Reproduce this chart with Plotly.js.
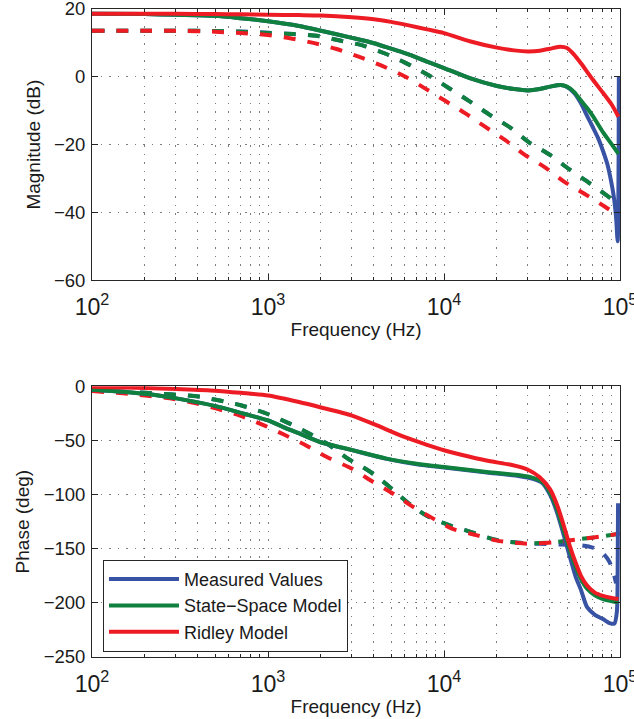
<!DOCTYPE html>
<html>
<head>
<meta charset="utf-8">
<script src="https://cdn.plot.ly/plotly-3.0.1.min.js"></script>
<style>html,body{margin:0;padding:0;background:#fff;overflow:hidden;}#chart{width:634px;height:719px;}</style>
</head>
<body>
<div id="chart"></div>
<script>
// ---------- Legend names ----------
const seriesNames = ["Measured Values", "State\u2212Space Model", "Ridley Model"];

// ---------- Magnitude (dB), solid curves ----------
const measMag1F = [100,200,300,500,700,1000,1500,2000,3000,4000,5000,6400,8000,10000,14000,20000,25000,30000,35000,40000,46000,50000,55000,60000,65000,70000,75000,80000,85000,88000,92000,95000,97000,98500];
const measMag1  = [18.6,18.5,18.3,18.0,17.3,16.4,15.0,13.6,11.5,9.9,8.3,6.5,4.5,2.6,-0.4,-2.7,-3.6,-4.0,-3.6,-2.9,-2.4,-3.0,-4.8,-7.8,-11.5,-14.8,-18.0,-21.8,-26.0,-29.5,-35.0,-41.5,-48.5,0];
const ssMag1F   = [100,200,300,500,700,1000,1500,2000,3000,4000,5000,6400,8000,10000,14000,20000,25000,30000,35000,40000,46000,50000,55000,60000,65000,70000,80000,90000,98000];
const ssMag1    = [18.6,18.5,18.3,18.0,17.3,16.4,15.0,13.6,11.5,9.9,8.3,6.5,4.5,2.6,-0.4,-2.7,-3.6,-4.0,-3.6,-2.9,-2.4,-2.9,-4.5,-7.0,-9.2,-11.5,-16.3,-20.0,-22.7];
const ridleyMag1F = [100,200,300,500,700,1000,1500,2000,3000,4000,5000,6400,8000,10000,14000,20000,25000,30000,35000,40000,46000,50000,55000,60000,70000,80000,90000,98000];
const ridleyMag1  = [18.6,18.6,18.6,18.5,18.45,18.3,18.2,18.1,17.6,17.0,16.2,15.1,14.0,12.9,10.5,8.6,7.8,7.5,7.7,8.3,8.9,8.5,6.5,4.0,-0.8,-4.7,-8.3,-11.8];

// ---------- Magnitude (dB), dashed curves ----------
const measMag2F = [100,200,300,500,700,1014,1393,1892,2564,3480,4664,6000,8220,10800,14060,18200,23700,30400,40000,51300,66100,84700,93000];
const measMag2  = [13.6,13.6,13.6,13.5,13.35,13.0,12.6,12.1,10.7,9.2,6.8,4.2,0.4,-3.5,-7.3,-11.2,-14.9,-19.3,-23.0,-27.2,-31.1,-35.1,-36.5];
const ssMag2F   = [100,200,300,500,700,1014,1393,1892,2564,3480,4664,6000,8220,10800,14060,18200,23700,30400,40000,51300,66100,84700,93000];
const ssMag2    = [13.6,13.6,13.6,13.5,13.3,12.9,12.6,12.1,10.7,9.2,6.8,4.2,0.4,-3.5,-7.3,-11.2,-14.9,-19.3,-23.0,-27.2,-31.1,-35.1,-36.6];
const ridleyMag2F = [100,200,300,500,700,960,1333,1808,2455,3335,4424,6000,7800,10100,13160,17100,22200,28800,37500,48100,62400,82200,92000];
const ridleyMag2  = [13.6,13.6,13.6,13.3,12.9,12.4,11.4,10.0,8.2,5.8,3.3,0.1,-3.4,-7.0,-10.7,-14.7,-18.6,-23.0,-26.7,-30.9,-34.4,-38.3,-40.0];

// ---------- Phase (deg), solid curves ----------
const measPh1F = [100,150,213,330,511,790,1000,1222,1516,1973,3060,4720,7000,10000,17500,27000,32000,36000,40000,44000,48000,52000,56000,60000,65000,72000,80000,88000,93000,96000,97000,97500];
const measPh1  = [-3.1,-5,-7.4,-12.3,-18.5,-26.8,-31.5,-37.6,-43.7,-51.4,-59.3,-67,-72,-75,-79.5,-83,-85.5,-89,-100,-117,-138,-158,-176,-188,-204,-211,-215,-219,-219,-208,-170,-108];
const ssPh1F   = [100,150,213,330,511,790,1000,1222,1516,1973,3060,4720,7000,10000,17500,27000,32000,36000,40000,44000,48000,52000,56000,60000,65000,72000,80000,90000,98000];
const ssPh1    = [-3.1,-5,-7.4,-12.3,-18.5,-26.8,-31.5,-37.6,-43.7,-51.4,-59.1,-66.8,-71.5,-74.5,-79.1,-82.2,-84.5,-88,-98,-114,-134,-152,-167,-178,-187,-193,-196.5,-198.5,-199.5];
const ridleyPh1F = [100,200,300,500,700,1000,1500,2000,3000,4000,6000,8000,10000,14000,18000,24000,30000,35000,40000,44000,48000,52000,56000,60000,65000,72000,80000,90000,98000];
const ridleyPh1  = [-0.5,-1.5,-2.5,-4,-6,-8.5,-14.5,-19.5,-27,-35,-47,-54,-59,-65,-69,-72.5,-77,-84,-95,-110,-129,-148,-163,-175,-184,-190.5,-193.5,-195.5,-196.5];

// ---------- Phase (deg), dashed curves ----------
const measPh2F = [100,150,200,277,380,523,700,950,1290,1600,2150,2880,3750,4720,6170,8030,10800,14300,20000,29500,35000,45000,59300,70000,80300,87000,92000,95000];
const measPh2  = [-4,-5,-6,-7.4,-8.9,-12.9,-17.5,-24.3,-33.5,-41,-52.6,-67.4,-78.2,-90.5,-106.8,-119.8,-128.4,-134.6,-142,-145,-145.5,-146,-146.8,-149,-154.6,-162,-173,-182];
const ssPh2F   = [100,150,200,277,380,523,700,950,1290,1600,2150,2880,3750,4720,6170,8030,10800,14300,20000,29500,42000,60000,80000,100000];
const ssPh2    = [-4,-5,-6,-7.4,-8.9,-12.9,-17.5,-24.3,-33.5,-41,-52.6,-67.4,-78.2,-90.5,-106.8,-119.8,-128.4,-134.6,-142,-145,-144,-141,-138.5,-136];
const ridleyPh2F = [100,150,200,277,377,511,693,921,1222,1600,2160,2985,3960,5000,6700,8700,11100,15400,20000,29500,42000,60000,80000,100000];
const ridleyPh2  = [-4.3,-6.5,-8.5,-11.1,-15.1,-20.6,-27.1,-35.1,-44.3,-53.5,-65.3,-76,-88.4,-98,-111.5,-122.2,-131.4,-137.6,-142.5,-145.3,-144,-141,-138.5,-136];

// ---------- Axis ticks ----------
const magTicks = [-60,-40,-20,0,20];
const phaseTicks = [-250,-200,-150,-100,-50,0];

const colors = ['#3953a4', '#10803f', '#ed1c24'];
const FONT = 'Liberation Sans, Arial, Helvetica, sans-serif';
const TXT = '#1a1a1a';
const LW = 4;
const DASH = '12px,12px';

function tr(x, y, ci, dashed, yax, name, show) {
  return {
    x: x, y: y, type: 'scatter', mode: 'lines',
    xaxis: yax === 'y' ? 'x' : 'x2', yaxis: yax,
    name: name, showlegend: !!show,
    line: {color: colors[ci], width: LW, dash: dashed ? DASH : 'solid', shape: 'spline', smoothing: 0.7},
    hoverinfo: 'skip'
  };
}

const data = [
  tr(measMag2F, measMag2, 0, true, 'y', seriesNames[0], false),
  tr(ssMag2F, ssMag2, 1, true, 'y', seriesNames[1], false),
  tr(ridleyMag2F, ridleyMag2, 2, true, 'y', seriesNames[2], false),
  tr(measPh2F, measPh2, 0, true, 'y2', seriesNames[0], false),
  tr(ssPh2F, ssPh2, 1, true, 'y2', seriesNames[1], false),
  tr(ridleyPh2F, ridleyPh2, 2, true, 'y2', seriesNames[2], false),
  tr(measMag1F, measMag1, 0, false, 'y', seriesNames[0], false),
  tr(ssMag1F, ssMag1, 1, false, 'y', seriesNames[1], false),
  tr(ridleyMag1F, ridleyMag1, 2, false, 'y', seriesNames[2], false),
  tr(measPh1F, measPh1, 0, false, 'y2', seriesNames[0], true),
  tr(ssPh1F, ssPh1, 1, false, 'y2', seriesNames[1], true),
  tr(ridleyPh1F, ridleyPh1, 2, false, 'y2', seriesNames[2], true)
];

const GRIDC = 'rgba(70,70,70,0.7)';
const gridStyle = {showgrid: true, gridcolor: GRIDC, gridwidth: 1, griddash: '1.5px,7px'};

function xax(anchor) {
  return Object.assign({
    type: 'log', range: [2, 5], dtick: 1, exponentformat: 'power', showexponent: 'all',
    anchor: anchor, showline: true, linecolor: '#262626', linewidth: 1, mirror: 'ticks',
    ticks: 'inside', ticklen: 6, tickcolor: '#262626', tickwidth: 1,
    tickfont: {family: FONT, size: 18.5, color: TXT}, ticklabelstandoff: 7,
    ticklabeloverflow: 'allow',
    title: {text: 'Frequency (Hz)', font: {family: FONT, size: 19, color: TXT}, standoff: 3},
    minor: {dtick: 'D1', ticks: 'inside', ticklen: 3, tickcolor: '#262626', showgrid: true,
            gridcolor: GRIDC, gridwidth: 1, griddash: '1.5px,7px'},
    zeroline: false, automargin: false
  }, gridStyle);
}
function yax(domain, range, ticks, title, anchor) {
  return Object.assign({
    domain: domain, range: range, tickvals: ticks, anchor: anchor,
    showline: true, linecolor: '#262626', linewidth: 1, mirror: 'ticks',
    ticks: 'inside', ticklen: 6, tickcolor: '#262626', tickwidth: 1,
    tickfont: {family: FONT, size: 18.5, color: TXT}, ticklabelstandoff: 2,
    ticklabeloverflow: 'allow',
    title: {text: title, font: {family: FONT, size: 19, color: TXT}, standoff: 8},
    zeroline: false, automargin: false
  }, gridStyle);
}

const layout = {
  width: 634, height: 719,
  margin: {l: 92, r: 14, t: 9, b: 62},
  paper_bgcolor: '#ffffff', plot_bgcolor: '#ffffff',
  font: {family: FONT, color: TXT},
  xaxis: xax('y'),
  xaxis2: xax('y2'),
  yaxis: yax([0.5813, 1], [-60, 20], magTicks, 'Magnitude (dB)', 'x'),
  yaxis2: yax([0, 0.4177], [-250, 0], phaseTicks, 'Phase (deg)', 'x2'),
  showlegend: true,
  legend: {
    x: 0.0208, y: 0.150, xanchor: 'left', yanchor: 'top',
    bgcolor: '#ffffff', bordercolor: '#262626', borderwidth: 1,
    font: {family: FONT, size: 18, color: TXT}, itemwidth: 70, tracegroupgap: 0
  }
};

Plotly.newPlot('chart', data, layout, {staticPlot: true, displayModeBar: false});
</script>
</body>
</html>
